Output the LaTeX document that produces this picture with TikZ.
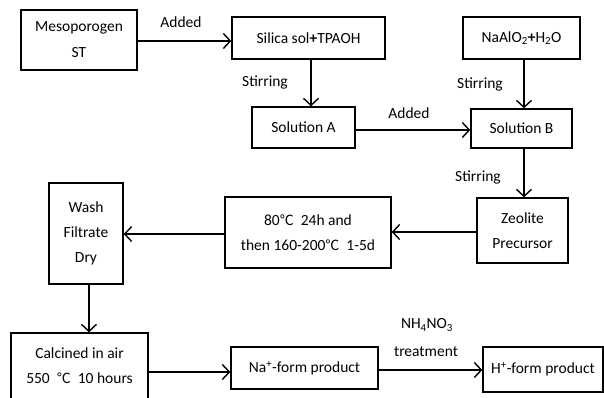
\documentclass[tikz,border=0pt]{standalone}
\usepackage{fontspec}
\setmainfont{Carlito}
\newfontfamily\cjk{Noto Sans CJK SC}
\usetikzlibrary{arrows.meta}
\newcommand{\degC}{{\cjk\fontsize{14}{16}\selectfont ℃}}
\begin{document}
\begin{tikzpicture}[x=1pt,y=-1pt,
  font=\fontsize{15.5}{18}\selectfont,
  box/.style={draw, line width=1.4pt, inner sep=0pt, align=center},
  arr/.style={line width=1.4pt, -{Straight Barb[length=7pt,width=15pt,line width=1.4pt]}},
  lbl/.style={inner sep=0pt}]
\useasboundingbox (0,0) rectangle (604,398);
% boxes (by corners)
\node[box, minimum width=116, minimum height=60] (meso) at (79,40) {Mesoporogen\\[8pt]ST};
\node[box, minimum width=153, minimum height=42] (silica) at (308.5,38) {Silica sol\textbf{+}TPAOH};
\node[box, minimum width=117, minimum height=42] (naalo) at (521.5,38) {NaAlO\textsubscript{2}\textbf{+}H\textsubscript{2}O};
\node[box, minimum width=103, minimum height=41] (solA) at (303.5,127.5) {Solution A};
\node[box, minimum width=101, minimum height=39] (solB) at (521.5,128.5) {Solution B};
\node[box, minimum width=91, minimum height=65] (zeo) at (522.5,230.5) {Zeolite\\[7pt]Precursor};
\node[box, minimum width=166, minimum height=71] (heat) at (308,232.5) {80\degC\ \ 24h and\\[7pt]then 160-200\degC\ \ 1-5d};
\node[box, minimum width=74, minimum height=101] (wash) at (86,233.5) {Wash\\[7pt]Filtrate\\[7pt]Dry};
\node[box, minimum width=137, minimum height=66] (calc) at (79.5,366) {Calcined in air\\[7pt]550 \ \degC\ \ 10 hours};
\node[box, minimum width=147, minimum height=42] (na) at (304.5,368) {Na\textsuperscript{+}-form product};
\node[box, minimum width=120, minimum height=45] (h) at (543,369.5) {H\textsuperscript{+}-form product};
% connectors
\draw[arr] (meso.east |- 0,41) -- (silica.west |- 0,41);
\node[lbl] (l1) at (181,22) {Added};
\draw[arr] (silica.south -| 311,0) -- (solA.north -| 311,0);
\node[lbl] (l2) at (265,82) {Stirring};
\draw[arr] (solA.east |- 0,130) -- (solB.west |- 0,130);
\node[lbl] (l3) at (409,113) {Added};
\draw[arr] (naalo.south -| 524,0) -- (solB.north -| 524,0);
\node[lbl] (l4) at (480,84) {Stirring};
\draw[arr] (solB.south -| 524,0) -- (zeo.north -| 524,0);
\node[lbl] (l5) at (478,177) {Stirring};
\draw[arr] (zeo.west |- 0,232) -- (heat.east |- 0,232);
\draw[arr] (heat.west |- 0,234) -- (wash.east |- 0,234);
\draw[arr] (wash.south -| 89,0) -- (calc.north -| 89,0);
\draw[arr] (calc.east |- 0,372) -- (na.west |- 0,372);
\draw[arr] (na.east |- 0,370) -- (h.west |- 0,370);
\node[lbl] (l6) at (427,325) {NH\textsubscript{4}NO\textsubscript{3}};
\node[lbl] (l7) at (426,352) {treatment};
\end{tikzpicture}
\end{document}
